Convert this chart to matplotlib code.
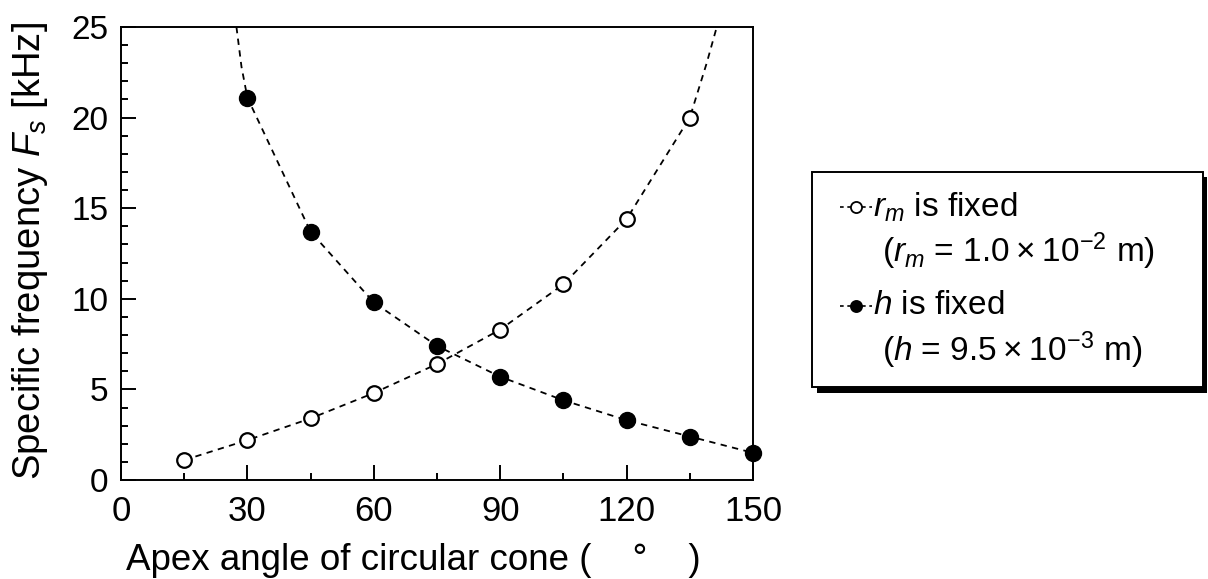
import matplotlib
matplotlib.use("Agg")
from matplotlib import pyplot as plt
from matplotlib.lines import Line2D
from matplotlib.patches import Rectangle
from matplotlib.ticker import MultipleLocator

plt.rcParams['font.family'] = ['Liberation Sans', 'DejaVu Sans']
plt.rcParams['mathtext.fontset'] = 'custom'
plt.rcParams['mathtext.rm'] = 'Liberation Sans'
plt.rcParams['mathtext.it'] = 'Liberation Sans:italic'

# measured points
angle_rm = [15, 30, 45, 60, 75, 90, 105, 120, 135]
fs_rm = [1.1, 2.2, 3.4, 4.8, 6.4, 8.3, 10.8, 14.4, 20.0]
angle_h = [30, 45, 60, 75, 90, 105, 120, 135, 150]
fs_h = [21.1, 13.7, 9.8, 7.4, 5.7, 4.4, 3.3, 2.4, 1.5]

# dashed calculated curves (run past the last measured point up to the frame)
curve_rm_x = angle_rm + [139.0, 141.4]
curve_rm_y = fs_rm + [23.0, 25.0]
curve_h_x = [27.4, 28.6] + angle_h
curve_h_y = [25.0, 22.8] + fs_h

W, H = 1208, 579
fig = plt.figure(figsize=(W / 100, H / 100), dpi=100)
ax = fig.add_axes([121 / W, 1 - 480 / H, (753 - 121) / W, (480 - 27) / H])

dash = (0, (3.5, 3))
ax.plot(curve_rm_x, curve_rm_y, color='black', lw=1.3, ls=dash)
ax.plot(curve_h_x, curve_h_y, color='black', lw=1.3, ls=dash)
ax.plot(angle_rm, fs_rm, 'o', ms=10.5, mfc='white', mec='black', mew=1.6,
        clip_on=False, zorder=3)
ax.plot(angle_h, fs_h, 'o', ms=11.5, mfc='black', mec='black',
        clip_on=False, zorder=3)

ax.set_xlim(0, 150)
ax.set_ylim(0, 25)
ax.xaxis.set_major_locator(MultipleLocator(30))
ax.xaxis.set_minor_locator(MultipleLocator(15))
ax.yaxis.set_major_locator(MultipleLocator(5))
ax.yaxis.set_minor_locator(MultipleLocator(1))
ax.tick_params(which='both', direction='in', top=False, right=False, width=1.4)
ax.tick_params(which='major', length=11, pad=9)
ax.tick_params(which='minor', length=5)
ax.tick_params(axis='x', labelsize=25, pad=11)
ax.tick_params(axis='y', labelsize=24)
for s in ax.spines.values():
    s.set_linewidth(1.4)

ax.set_xlabel('Apex angle of circular cone (    \u00b0    )', fontsize=26.5)
ax.xaxis.set_label_coords(0.462, -0.14)
ax.set_ylabel('Specific frequency $F_s$ [kHz]', fontsize=27.5)
ax.yaxis.set_label_coords(-0.112, 0.505)


def fx(px):
    return px / W


def fy(py):
    return 1 - py / H


# legend box with a solid shadow
fig.add_artist(Rectangle((fx(817), fy(393)), (1207 - 817) / W, (393 - 177) / H,
                         transform=fig.transFigure, facecolor='black',
                         edgecolor='black', lw=0))
fig.add_artist(Rectangle((fx(812), fy(387)), (1203 - 812) / W, (387 - 172) / H,
                         transform=fig.transFigure, facecolor='white',
                         edgecolor='black', lw=1.4))

for yy, face in [(207, 'white'), (306, 'black')]:
    fig.add_artist(Line2D([fx(840), fx(872)], [fy(yy), fy(yy)],
                          transform=fig.transFigure, color='black', lw=1.2,
                          ls=(0, (2.2, 2.2))))
    fig.add_artist(Line2D([fx(856)], [fy(yy)], transform=fig.transFigure,
                          marker='o', ms=8, mfc=face, mec='black', mew=1.3))

legend_lines = [
    (873, 207, '$r_m$ is fixed'),
    (882, 251, '($r_m$ = 1.0\u2009\u00d7\u200910$^{\\mathregular{-2}}$ m)'),
    (873, 306, '$h$ is fixed'),
    (882, 350, '($h$ = 9.5\u2009\u00d7\u200910$^{\\mathregular{-3}}$ m)'),
]
for px, py, txt in legend_lines:
    fig.text(fx(px), fy(py), txt, fontsize=24, ha='left', va='center')

fig.savefig('out.png', dpi=100)
